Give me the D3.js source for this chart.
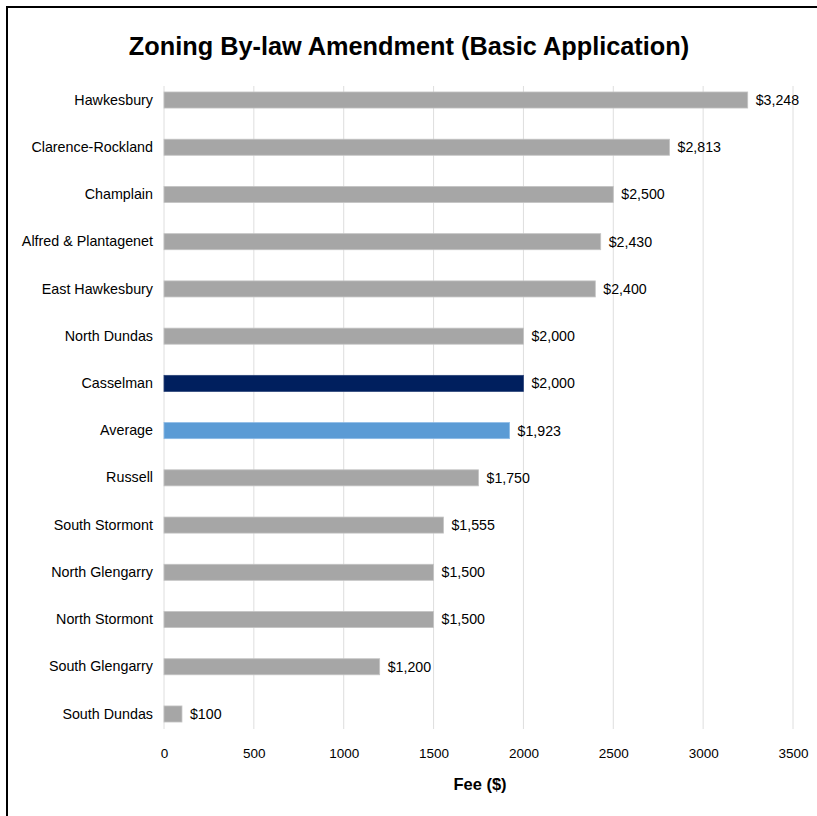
<!DOCTYPE html>
<html>
<head>
<meta charset="utf-8">
<script src="https://cdn.jsdelivr.net/npm/d3@7"></script>
<style>
  html, body { margin: 0; padding: 0; background: #fff; }
  svg { display: block; font-family: "Liberation Sans", Arial, Helvetica, sans-serif; }
</style>
</head>
<body>
<svg id="chart" width="817" height="816"></svg>
<script>
// Fee for a basic zoning by-law amendment, by municipality
const municipalities = [
  "Hawkesbury", "Clarence-Rockland", "Champlain", "Alfred & Plantagenet",
  "East Hawkesbury", "North Dundas", "Casselman", "Average", "Russell",
  "South Stormont", "North Glengarry", "North Stormont", "South Glengarry",
  "South Dundas"
];
const fees = [3248, 2813, 2500, 2430, 2400, 2000, 2000, 1923, 1750, 1555, 1500, 1500, 1200, 100];
const xTicks = [0, 500, 1000, 1500, 2000, 2500, 3000, 3500];

const colorFor = name =>
  name === "Casselman" ? "#001f5e" :
  name === "Average" ? "#5b9bd5" : "#a6a6a6";
const strokeFor = name =>
  name === "Casselman" ? "#2a4378" :
  name === "Average" ? "#8dbbe6" : "#c4c4c4";

const svg = d3.select("#chart");

// outer frame
svg.append("rect")
  .attr("x", 7).attr("y", 7).attr("width", 830).attr("height", 830)
  .attr("fill", "none").attr("stroke", "#000").attr("stroke-width", 2);

const plotLeft = 164, plotRight = 793, plotTop = 76.4, plotBottom = 737.6;

const x = d3.scaleLinear().domain([0, 3500]).range([plotLeft, plotRight]);
const y = d3.scaleBand().domain(municipalities).range([plotTop, plotBottom]).paddingInner(0.66).paddingOuter(0.33);

// title
svg.append("text")
  .attr("x", 409).attr("y", 55)
  .attr("text-anchor", "middle")
  .attr("font-size", 25.3).attr("font-weight", "bold")
  .attr("fill", "#000")
  .text("Zoning By-law Amendment (Basic Application)");

// vertical gridlines
svg.append("g").selectAll("line")
  .data(xTicks)
  .join("line")
  .attr("x1", d => x(d)).attr("x2", d => x(d))
  .attr("y1", 86).attr("y2", 729)
  .attr("stroke", "#dedede").attr("stroke-width", 1);

// bars
svg.append("g").selectAll("rect")
  .data(municipalities)
  .join("rect")
  .attr("x", x(0))
  .attr("y", (d) => y(d))
  .attr("width", (d, i) => x(fees[i]) - x(0))
  .attr("height", y.bandwidth())
  .attr("fill", d => colorFor(d))
  .attr("stroke", d => strokeFor(d))
  .attr("stroke-width", 0.8);

// value labels
svg.append("g").selectAll("text")
  .data(municipalities)
  .join("text")
  .attr("x", (d, i) => x(fees[i]) + 8)
  .attr("y", d => y(d) + y.bandwidth() / 2)
  .attr("dy", "0.35em")
  .attr("font-size", 14.2)
  .attr("fill", "#000")
  .text((d, i) => "$" + d3.format(",")(fees[i]));

// category axis
const yAxis = svg.append("g")
  .attr("transform", `translate(${plotLeft - 11},0)`)
  .call(d3.axisLeft(y).tickSize(0).tickPadding(0));
yAxis.select(".domain").remove();
yAxis.selectAll("text").attr("font-size", 14.3).attr("fill", "#000")
  .attr("font-family", '"Liberation Sans", Arial, sans-serif');

// value axis
const xAxis = svg.append("g")
  .attr("transform", `translate(0,${744})`)
  .call(d3.axisBottom(x).tickValues(xTicks).tickSize(0).tickPadding(4).tickFormat(d3.format("d")));
xAxis.select(".domain").remove();
xAxis.selectAll("text").attr("font-size", 13.5).attr("fill", "#000")
  .attr("font-family", '"Liberation Sans", Arial, sans-serif');

// axis title
svg.append("text")
  .attr("x", 480).attr("y", 790)
  .attr("text-anchor", "middle")
  .attr("font-size", 16.5).attr("font-weight", "bold")
  .attr("fill", "#000")
  .text("Fee ($)");
</script>
</body>
</html>
